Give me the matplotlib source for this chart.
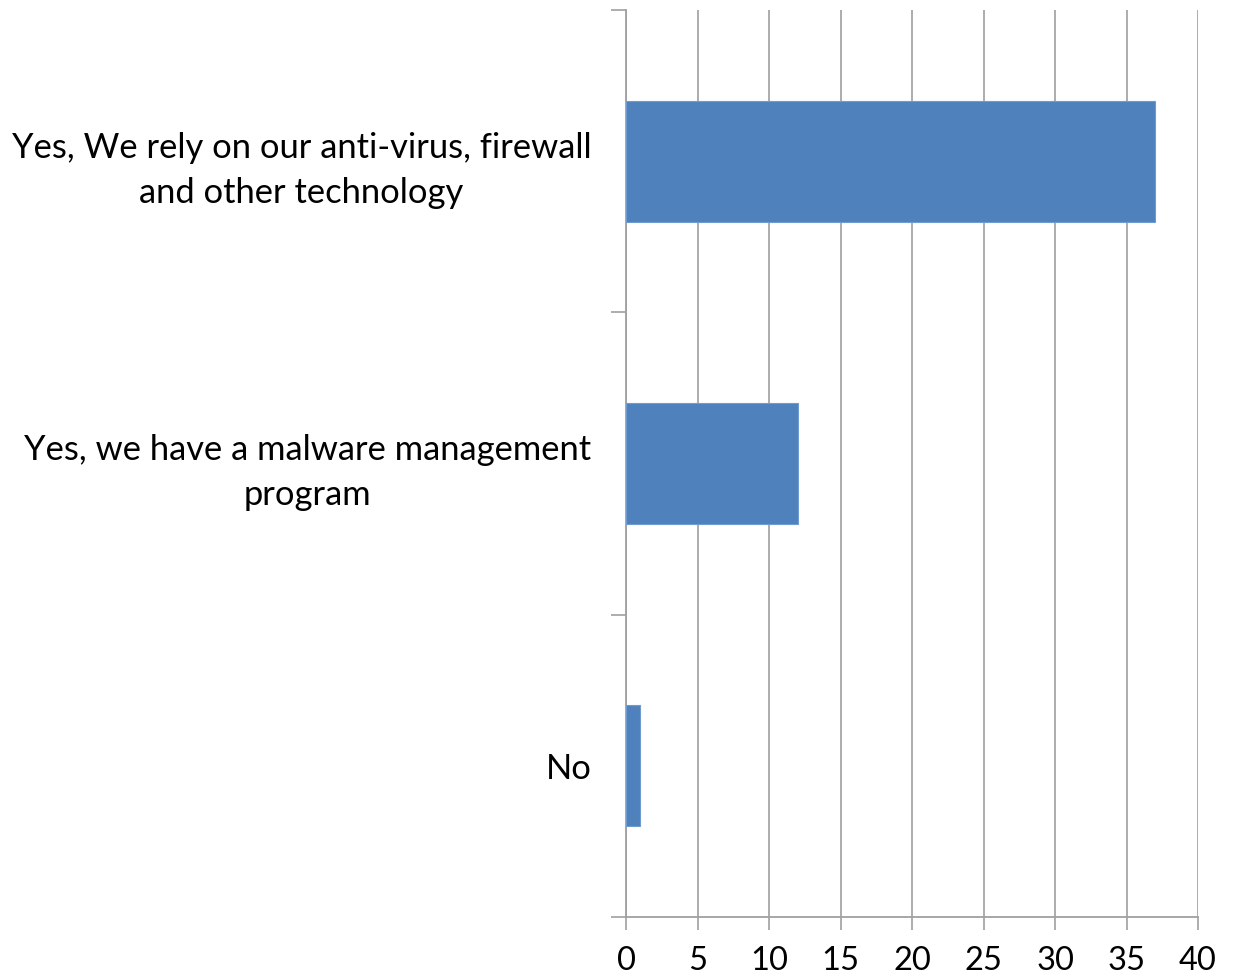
import matplotlib.pyplot as plt
from matplotlib.ticker import FixedLocator

categories = ['Yes, We rely on our anti-virus, firewall\nand other technology',
              'Yes, we have a malware management\nprogram',
              'No']
counts = [37, 12, 1]
x_ticks = [0, 5, 10, 15, 20, 25, 30, 35, 40]

plt.rcParams['font.family'] = ['Lato', 'DejaVu Sans']

fig = plt.figure(figsize=(12.36, 9.80), dpi=100)
ax = fig.add_axes([0.5065, 0.0643, 0.4628, 0.9255])

pos = list(range(len(categories)))
ax.barh(pos, counts, height=0.4, color='#4F81BD', edgecolor='#6F9BD0', linewidth=0.8, zorder=3)

ax.set_xlim(0, 40)
ax.set_ylim(2.5, -0.5)
ax.set_xticks(x_ticks)
ax.set_yticks(pos)
ax.set_yticklabels(categories, multialignment='center', fontsize=24.8, linespacing=1.5)
ax.yaxis.set_minor_locator(FixedLocator([-0.5, 0.5, 1.5, 2.5]))

ax.tick_params(axis='y', which='major', length=0, pad=25)
ax.tick_params(axis='y', which='minor', length=11, width=1.2, color='#A0A0A0')
ax.tick_params(axis='x', which='major', length=9, width=1.2, color='#A0A0A0', pad=12, labelsize=23.5)

ax.grid(axis='x', color='#A6A6A6', linewidth=1.3, zorder=0)
for s in ['top', 'right']:
    ax.spines[s].set_visible(False)
for s in ['left', 'bottom']:
    ax.spines[s].set_color('#A0A0A0')
    ax.spines[s].set_linewidth(1.3)

fig.savefig('out.png', dpi=100)
